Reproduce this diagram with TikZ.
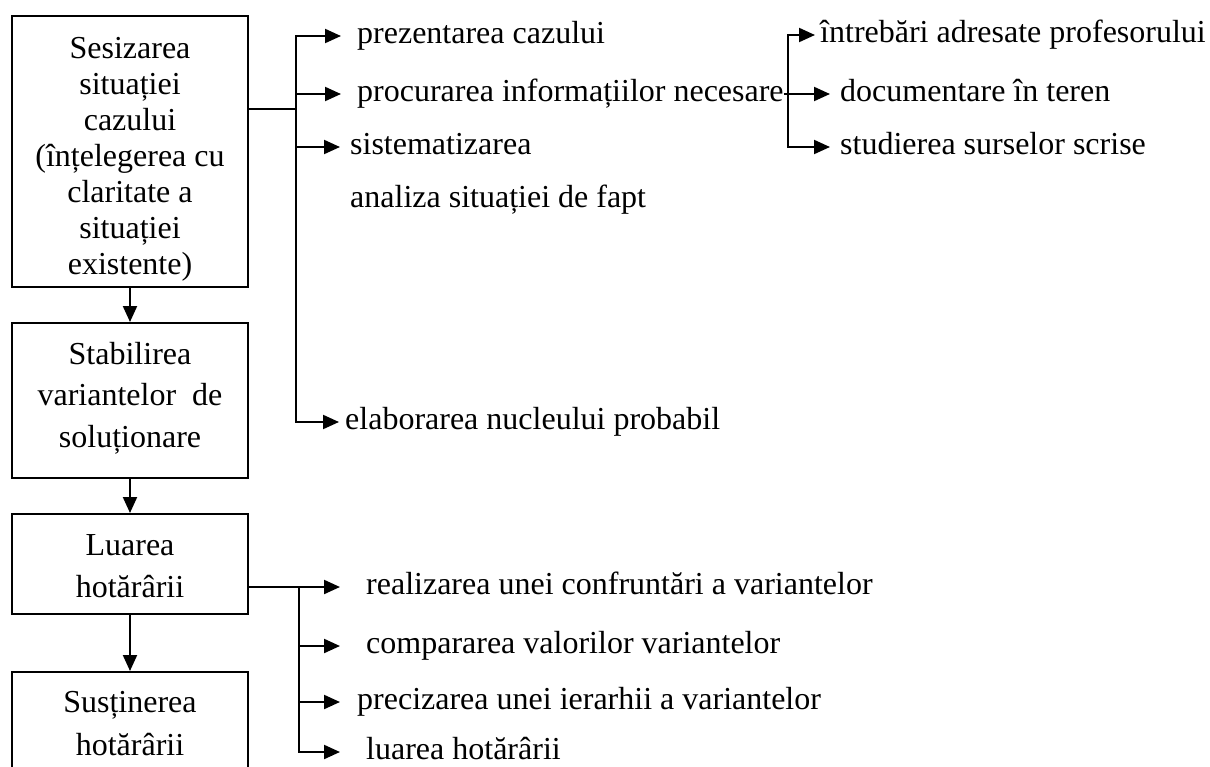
\documentclass[tikz,border=0pt]{standalone}
\usepackage{fontspec}
\setmainfont{Liberation Serif}
\usetikzlibrary{arrows.meta}

\tikzset{
  box/.style={draw, line width=2pt, minimum width=236pt, inner sep=0pt},
  boxtext/.style={align=center, inner sep=0pt, anchor=north},
  lbl/.style={inner sep=0pt, anchor=mid west},
  link/.style={line width=2.1pt},
  arr/.style={link, -{Triangle[length=16pt,width=14pt]}},
}

\begin{document}
\fontsize{32}{36}\selectfont
\begin{tikzpicture}[x=1pt, y=-1pt]
  \useasboundingbox (0,0) rectangle (1210,766);
  \clip (0,0) rectangle (1210,766);

  % main column of stages
  \node[box, minimum height=271pt] (b1) at (130,151.5) {};
  \node[box, minimum height=155pt] (b2) at (130,400.5) {};
  \node[box, minimum height=100pt] (b3) at (130,564) {};
  \node[box, minimum height=128pt] (b4) at (130,736) {};

  \node[boxtext] (t1) at (130,28)
    {\rule{0pt}{30pt}Sesizarea\\ situației\\ cazului\\ (înțelegerea cu\\ claritate a\\ situației\\ existente)};
  \node[boxtext, font=\fontsize{32}{41.5}\selectfont] (t2) at (130,334)
    {\rule{0pt}{30pt}Stabilirea\\ variantelor\ \ de\\ soluționare};
  \node[boxtext, font=\fontsize{32}{42}\selectfont] (t3) at (130,525)
    {\rule{0pt}{30pt}Luarea\\ hotărârii};
  \node[boxtext, font=\fontsize{32}{43}\selectfont] (t4) at (130,682)
    {\rule{0pt}{30pt}Susținerea\\ hotărârii};

  \draw[arr] (b1.south) -- (b2.north);
  \draw[arr] (b2.south) -- (b3.north);
  \draw[arr] (b3.south) -- (b4.north);

  % steps of the first stage
  \node[lbl] (prez) at (357,36)  {prezentarea cazului};
  \node[lbl] (proc) at (357,94)  {procurarea informațiilor necesare};
  \node[lbl] (sist) at (350,147) {sistematizarea};
  \node[lbl] (anal) at (350,200) {analiza situației de fapt};
  \node[lbl] (elab) at (345,422) {elaborarea nucleului probabil};

  \coordinate (f1) at (296,109);
  \draw[link] (b1.east |- f1) -- (f1);
  \draw[arr] (f1) |- ([xshift=-16pt]prez.mid west);
  \draw[arr] (f1) |- ([xshift=-16pt]proc.mid west);
  \draw[arr] (f1) |- ([xshift=-10pt]sist.mid west);
  \draw[arr] (f1) |- ([xshift=-6pt]elab.mid west);

  % sources of information
  \node[lbl] (intr) at (820,35)  {întrebări adresate profesorului};
  \node[lbl] (doc)  at (840,94)  {documentare în teren};
  \node[lbl] (stud) at (840,147) {studierea surselor scrise};

  \coordinate (f3) at (788,94);
  \draw[link] (proc.mid east) -- (f3);
  \draw[arr] (f3) |- ([xshift=-5pt]intr.mid west);
  \draw[arr] (f3) -- ([xshift=-10pt]doc.mid west);
  \draw[arr] (f3) |- ([xshift=-10pt]stud.mid west);

  % steps of the decision
  \node[lbl] (real) at (366,587) {realizarea unei confruntări a variantelor};
  \node[lbl] (comp) at (366,646) {compararea valorilor variantelor};
  \node[lbl] (prec) at (357,702) {precizarea unei ierarhii a variantelor};
  \node[lbl] (luar) at (366,752) {luarea hotărârii};

  \coordinate (f2) at (299,587);
  \draw[arr] (b3.east |- f2) -- ([xshift=-26pt]real.mid west);
  \draw[arr] (f2) |- ([xshift=-26pt]comp.mid west);
  \draw[arr] (f2) |- ([xshift=-17pt]prec.mid west);
  \draw[arr] (f2) |- ([xshift=-26pt]luar.mid west);
\end{tikzpicture}
\end{document}
